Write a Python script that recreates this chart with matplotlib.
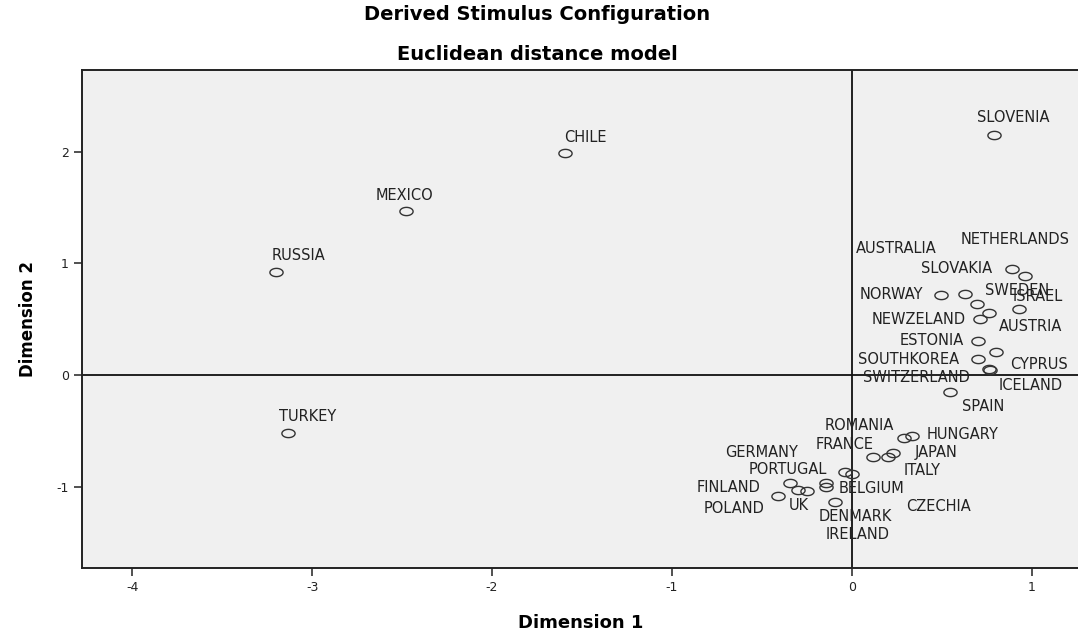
import numpy as np
import matplotlib
matplotlib.use("Agg")
import matplotlib.pyplot as plt
from matplotlib.path import Path

plt.rcParams["axes.unicode_minus"] = False

countries = ["CHILE", "MEXICO", "RUSSIA", "TURKEY", "SLOVENIA",
             "SLOVAKIA", "NETHERLANDS", "NORWAY", "AUSTRALIA", "SWEDEN",
             "AUSTRIA", "NEWZELAND", "ISRAEL", "ESTONIA", "CYPRUS",
             "SOUTHKOREA", "SWITZERLAND", "ICELAND", "SPAIN", "ROMANIA",
             "HUNGARY", "FRANCE", "ITALY", "JAPAN", "PORTUGAL",
             "CZECHIA", "GERMANY", "FINLAND", "UK", "POLAND",
             "BELGIUM", "IRELAND", "DENMARK"]
dim1 = [-1.593, -2.479, -3.203, -3.136, 0.789,
        0.891, 0.962, 0.496, 0.631, 0.696,
        0.762, 0.715, 0.929, 0.702, 0.804,
        0.700, 0.762, 0.769, 0.548, 0.288,
        0.334, 0.121, 0.204, 0.228, -0.037,
        0.000, -0.344, -0.297, -0.251, -0.408,
        -0.145, -0.145, -0.093]
dim2 = [1.987, 1.468, 0.922, -0.519, 2.149,
        0.946, 0.889, 0.716, 0.725, 0.633,
        0.552, 0.501, 0.588, 0.307, 0.209,
        0.141, 0.054, 0.045, -0.155, -0.567,
        -0.543, -0.737, -0.737, -0.701, -0.866,
        -0.886, -0.964, -1.030, -1.036, -1.083,
        -0.964, -1.005, -1.134]
xticks = [-4, -3, -2, -1, 0, 1]
yticks = [-1, 0, 1, 2]

# where each label sits relative to its point (pixels, y up)
label_offset = {
    "CHILE": (20, 16), "MEXICO": (-1, 15), "RUSSIA": (23, 16),
    "TURKEY": (20, 16), "SLOVENIA": (20, 17), "SLOVAKIA": (-55, 1),
    "NETHERLANDS": (-10, 36), "NORWAY": (-50, 0), "AUSTRALIA": (-69, 45),
    "SWEDEN": (40, 14), "AUSTRIA": (42, -13), "NEWZELAND": (-62, -1),
    "ISRAEL": (19, 13), "ESTONIA": (-46, 0), "CYPRUS": (43, -13),
    "SOUTHKOREA": (-69, 0), "SWITZERLAND": (-72, -9), "ICELAND": (41, -16),
    "SPAIN": (33, -14), "ROMANIA": (-44, 13), "HUNGARY": (51, 1),
    "FRANCE": (-29, 13), "ITALY": (34, -13), "JAPAN": (43, 1),
    "PORTUGAL": (-57, 2), "CZECHIA": (87, -33), "GERMANY": (-28, 30),
    "FINLAND": (-70, 3), "UK": (-8, -15), "POLAND": (-44, -13),
    "BELGIUM": (46, -6), "IRELAND": (32, -47), "DENMARK": (20, -15),
}

# the source picture is stretched sideways, so the circles are flat ellipses
t = np.linspace(0, 2 * np.pi, 60)
ellipse = Path(np.column_stack([1.6 * np.cos(t), np.sin(t)]), closed=True)

fig = plt.figure(figsize=(10.78, 6.33), dpi=100)
ax = fig.add_axes([82 / 1078, 1 - 568 / 633, 1 - 82 / 1078 + 0.002, (568 - 70) / 633])
ax.set_facecolor("#f0f0f0")

ax.axhline(0, color="#111111", lw=1.3, zorder=1)
ax.axvline(0, color="#111111", lw=1.3, zorder=1)

ax.plot(dim1, dim2, linestyle="none", marker=ellipse, markersize=9.5,
        markerfacecolor="none", markeredgecolor="#333333", markeredgewidth=1.0, zorder=3)

for name, x, y in zip(countries, dim1, dim2):
    dx, dy = label_offset[name]
    ax.annotate(name, (x, y), xytext=(dx, dy), textcoords="offset pixels",
                ha="center", va="center", fontsize=10.5, color="#222222",
                family="DejaVu Sans", annotation_clip=False, zorder=4)

ax.set_xlim(-4.279, 1.27)
ax.set_ylim(-1.728, 2.73)
ax.set_xticks(xticks)
ax.set_yticks(yticks)
ax.tick_params(axis="both", direction="out", length=6, width=1.2, color="#333333",
               labelsize=9, labelcolor="#222222")
for side in ["left", "bottom", "top", "right"]:
    ax.spines[side].set_color("#222222")
    ax.spines[side].set_linewidth(1.4)

ax.set_xlabel("Dimension 1", fontsize=13, fontweight="bold", labelpad=14)
ax.set_ylabel("Dimension 2", fontsize=12, fontweight="bold", labelpad=14)

fig.text(537 / 1078, 1 - 15 / 633, "Derived Stimulus Configuration",
         ha="center", va="center", fontsize=14, fontweight="bold")
fig.text(537 / 1078, 1 - 54 / 633, "Euclidean distance model",
         ha="center", va="center", fontsize=14, fontweight="bold")

fig.savefig("out.png", dpi=100)
